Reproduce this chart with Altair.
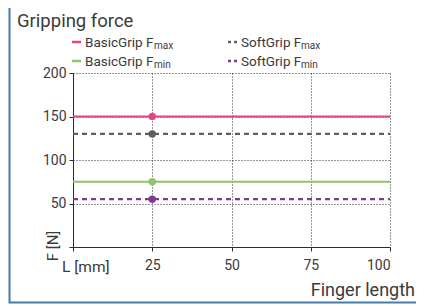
import altair as alt
import pandas as pd

# ---- data ----
series = ["BasicGrip Fmax", "SoftGrip Fmax", "BasicGrip Fmin", "SoftGrip Fmin"]
base_names = ["BasicGrip F", "SoftGrip F", "BasicGrip F", "SoftGrip F"]
subs = ["max", "max", "min", "min"]
forces = [150, 130, 75, 55]
colors = ["#e2458a", "#5f5f5f", "#8dc46e", "#7d3c8e"]
dashes = [[1, 0], [5, 4], [1, 0], [5, 4]]
L_span = [0, 100]
L_point = [25]
x_ticks = [0, 25, 50, 75, 100]
y_ticks = [0, 50, 100, 150, 200]

FONT = "Roboto"
TXT = "#3a3a3a"
AX = "#2b2b2b"

lines_df = pd.DataFrame(
    [{"series": s, "L": l, "F": f} for s, f in zip(series, forces) for l in L_span]
)
pts_df = pd.DataFrame(
    [{"series": s, "L": l, "F": f} for s, f in zip(series, forces) for l in L_point]
)

xscale = alt.Scale(domain=[0, 100], nice=False, zero=False)
yscale = alt.Scale(domain=[0, 200], nice=False)
cscale = alt.Scale(domain=series, range=colors)
dscale = alt.Scale(domain=series, range=dashes)

x_axis = alt.Axis(values=x_ticks, title=None, grid=True, gridDash=[1, 2], gridColor=AX,
                  gridOpacity=1, domainColor=AX, tickColor=AX, tickSize=4,
                  labelExpr="datum.value == 0 ? '' : datum.label",
                  labelFont=FONT, labelFontSize=14, labelColor=TXT, labelPadding=7)
y_axis = alt.Axis(values=y_ticks, title=None, grid=True, gridDash=[1, 2], gridColor=AX,
                  gridOpacity=1, domainColor=AX, tickColor=AX, tickSize=4,
                  labelExpr="datum.value == 0 ? '' : datum.label",
                  labelFont=FONT, labelFontSize=14, labelColor=TXT, labelPadding=3)

lines = alt.Chart(lines_df).mark_line(strokeWidth=2.2).encode(
    x=alt.X("L:Q", scale=xscale, axis=x_axis),
    y=alt.Y("F:Q", scale=yscale, axis=y_axis),
    color=alt.Color("series:N", scale=cscale, legend=None),
    strokeDash=alt.StrokeDash("series:N", scale=dscale, legend=None),
    detail="series:N",
)
points = alt.Chart(pts_df).mark_circle(size=55, opacity=1).encode(
    x=alt.X("L:Q", scale=xscale),
    y=alt.Y("F:Q", scale=yscale),
    color=alt.Color("series:N", scale=cscale, legend=None),
)

one = pd.DataFrame({"a": [0]})

def txt(text, x, y, size, align="left", angle=0, baseline="alphabetic"):
    return alt.Chart(one).mark_text(
        text=text, font=FONT, fontSize=size, color=TXT, align=align,
        baseline=baseline, angle=angle
    ).encode(x=alt.value(x), y=alt.value(y))

layers = []
# frame
layers.append(alt.Chart(one).mark_rect(fill=None, stroke="#4a7aab", strokeWidth=2).encode(
    x=alt.value(-63.5), x2=alt.value(360), y=alt.value(-69.5), y2=alt.value(229.5)))
layers.append(alt.Chart(one).mark_rule(stroke="#1f4468", strokeWidth=1).encode(
    x=alt.value(-64.5), x2=alt.value(360), y=alt.value(-70)))

layers.append(lines)
layers.append(points)

# title and axis texts
layers.append(txt("Gripping force", -56, -46, 18.5))
layers.append(txt("F [N]", -15, 173, 15, align="center", angle=270))
layers.append(txt("L [mm]", -11, 198.5, 15.5))
layers.append(txt("Finger length", 342, 223, 18, align="right"))

# manual legend
col_x = [-1, 155]
for i, (s, b, sub, c, d) in enumerate(zip(series, base_names, subs, colors, dashes)):
    col = i % 2
    row = i // 2
    sx = col_x[col]
    sy = -31 + row * 19
    layers.append(alt.Chart(one).mark_rule(stroke=c, strokeWidth=2.5,
                                           strokeDash=[3, 3] if d[1] else [1, 0]).encode(
        x=alt.value(sx), x2=alt.value(sx + 9), y=alt.value(sy)))
    tx = sx + 13
    layers.append(txt(b, tx, sy + 5, 13.5))
    sub_dx = 69 if b.startswith("Basic") else 60
    layers.append(txt(sub, tx + sub_dx, sy + 6.5, 10))

chart = alt.layer(*layers).properties(
    width=317, height=174,
    autosize=alt.AutoSizeParams(type="none"),
    padding={"left": 65, "top": 65, "right": 26, "bottom": 57},
    background="white",
).configure_view(stroke=None)

chart.save("out.html", embed_options={"renderer": "svg", "actions": False})
